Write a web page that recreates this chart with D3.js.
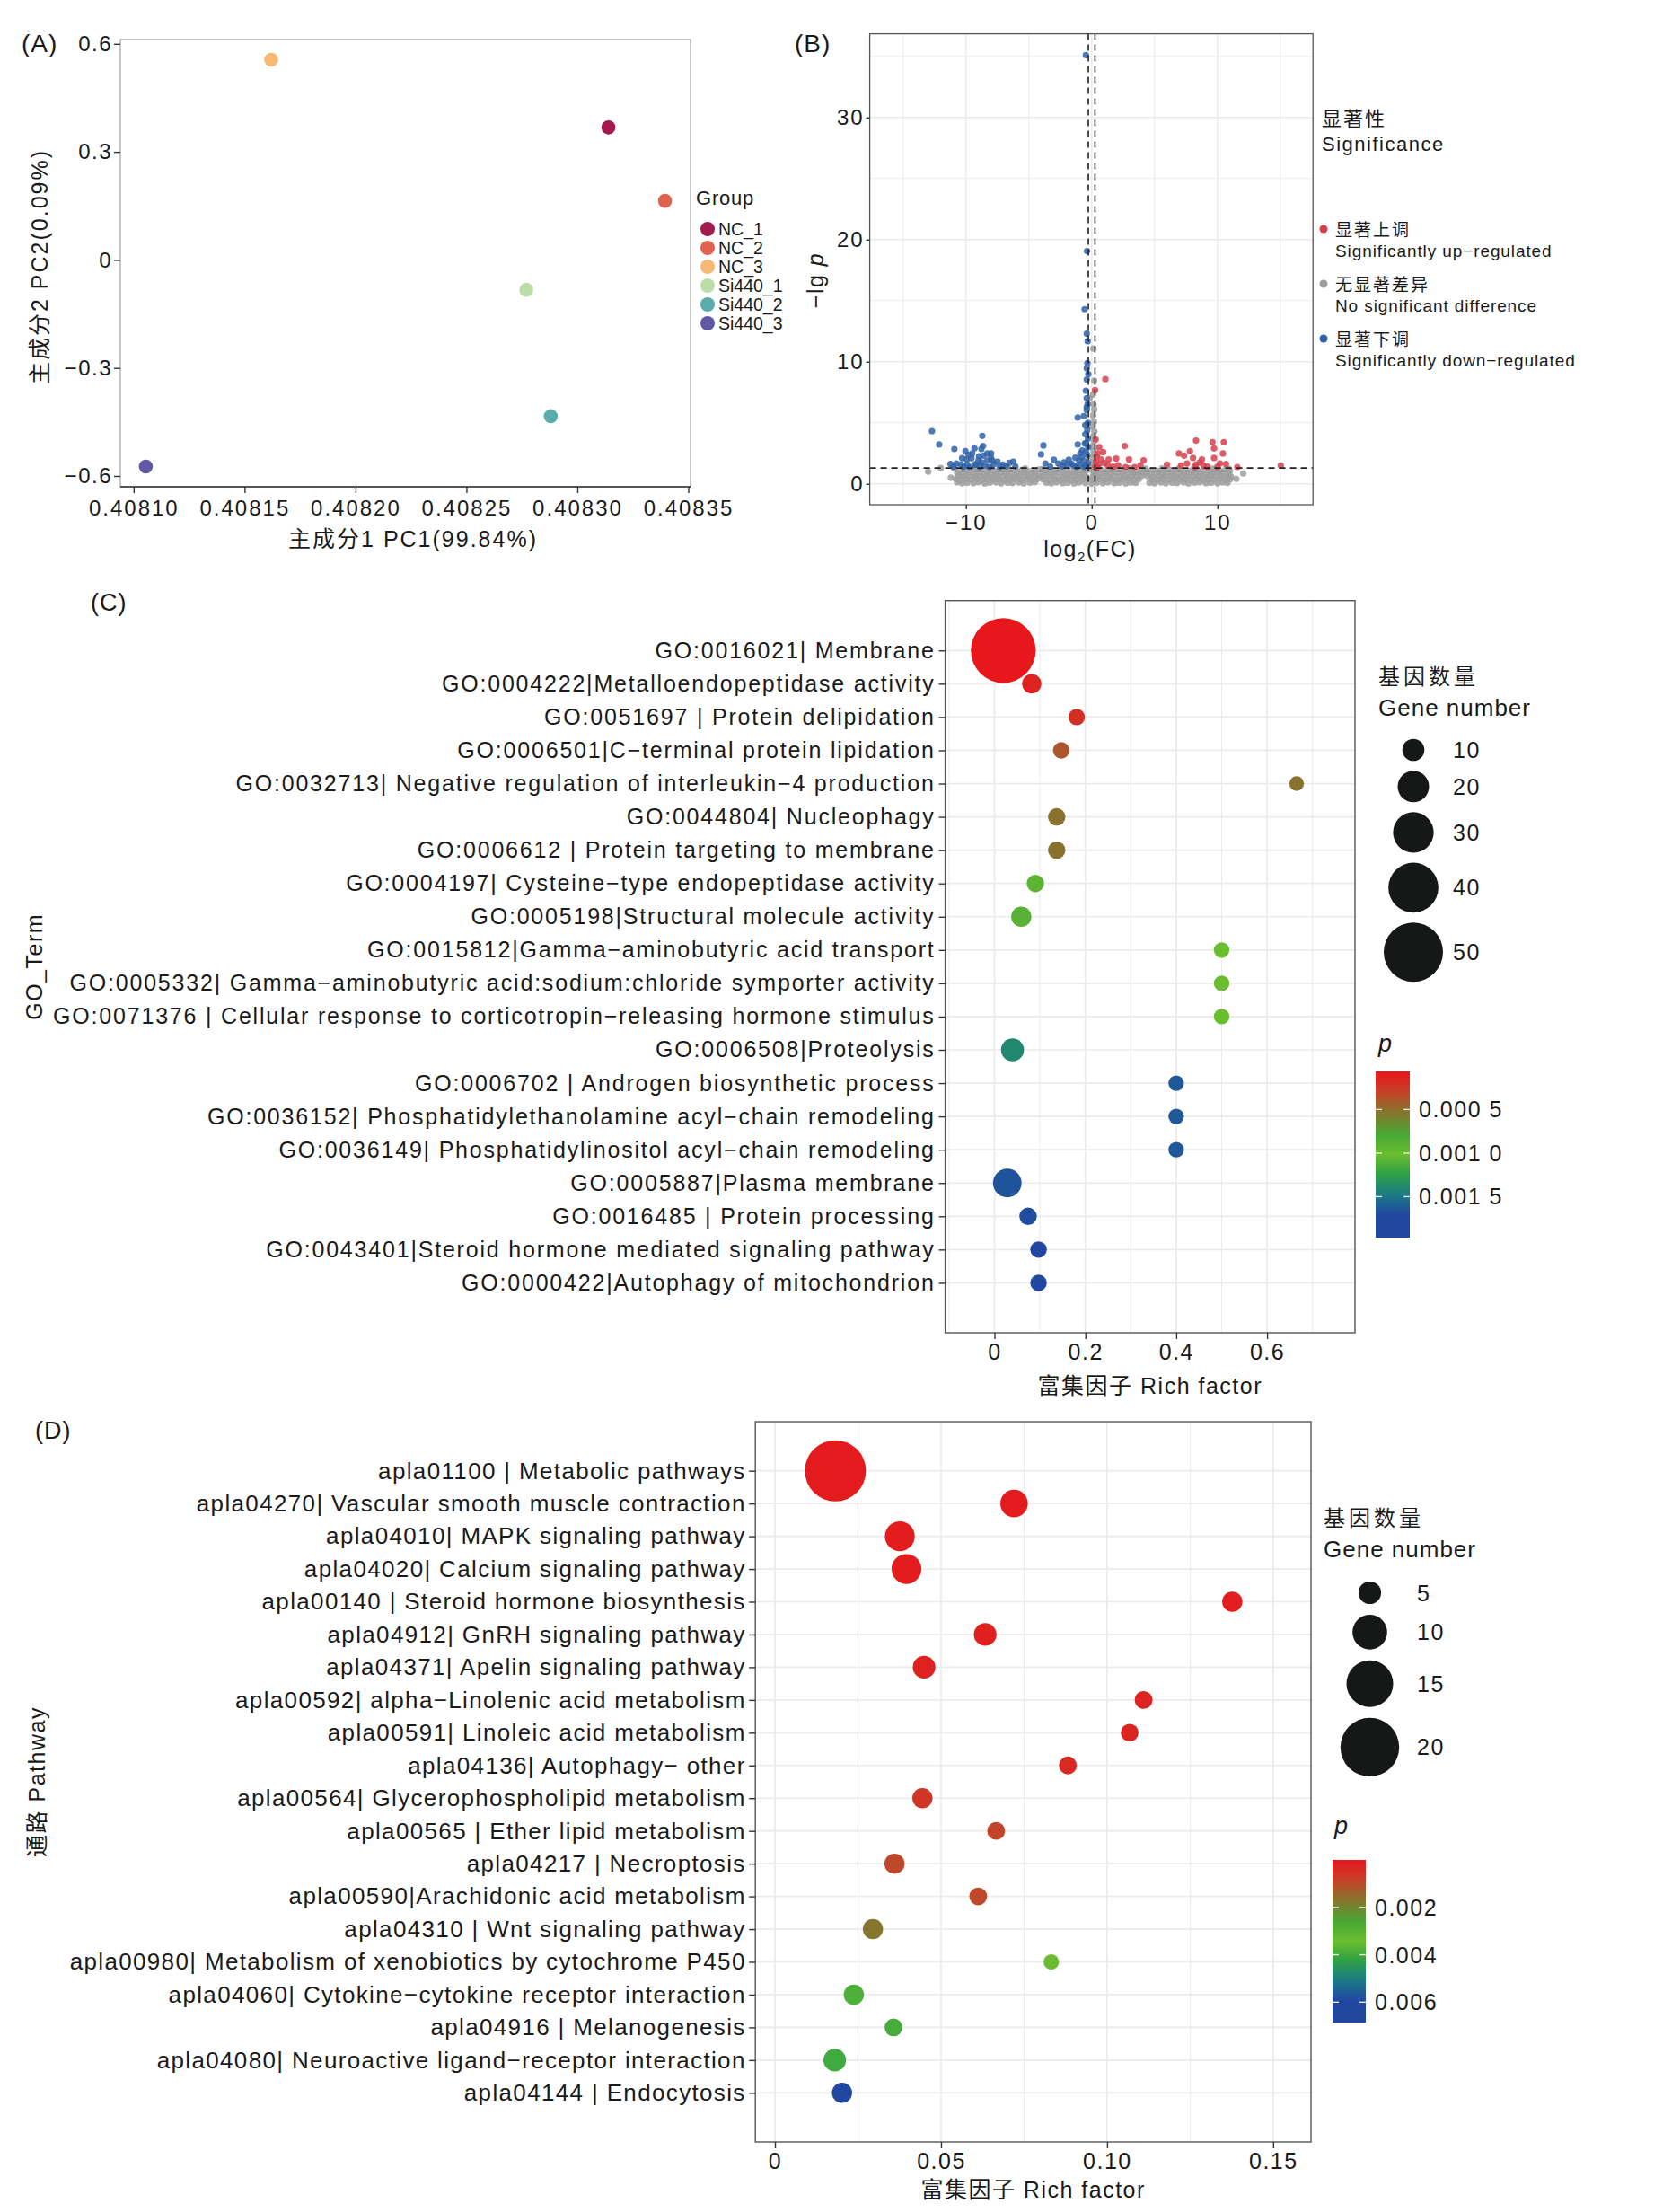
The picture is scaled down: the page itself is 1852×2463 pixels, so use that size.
<!DOCTYPE html>
<html>
<head>
<meta charset="utf-8">
<script src="https://cdn.jsdelivr.net/npm/d3@7"></script>
<style>
  body { margin: 0; background: #fff; }
  svg text { font-family: "Liberation Sans", Arial, "Noto Sans CJK SC", sans-serif; fill: #1a1a1a; }
</style>
</head>
<body>
<svg id="fig" width="1852" height="2463"></svg>
<script>

/* ---------------- DATA ---------------- */

// (A) PCA
const pcaGroups = ["NC_1", "NC_2", "NC_3", "Si440_1", "Si440_2", "Si440_3"];
const pcaPC1 = [0.408314, 0.4083395, 0.408162, 0.408277, 0.408288, 0.4081055];
const pcaPC2 = [0.368, 0.164, 0.556, -0.083, -0.434, -0.574];
const pcaColors = ["#A3184F", "#E0634F", "#F8B975", "#BDDDA7", "#5BACAC", "#6259A6"];
const pcaXTicks = [0.40810, 0.40815, 0.40820, 0.40825, 0.40830, 0.40835];
const pcaYTicks = [-0.6, -0.3, 0, 0.3, 0.6];

// (B) volcano, [log2FC, -lg p]
const volDown = [
  [-0.46, 35.1], [-0.37, 19.06], [-0.56, 14.3], [-0.39, 12.29], [-0.32, 11.68], [-0.34, 9.89],
  [-0.39, 9.47], [-0.27, 8.98], [-0.39, 8.54], [-0.46, 7.63], [-0.39, 7.02], [-0.32, 6.53],
  [-0.39, 6.05], [-1.11, 5.43], [-0.63, 5.55], [-0.51, 4.8], [-0.51, 4.06], [-0.39, 6.28],
  [-0.44, 3.34], [-0.34, 2.36], [-0.75, 2.73], [-0.63, 1.88], [-1.46, 1.5], [-0.99, 1.58],
  [-0.51, 1.5], [-1.11, 3.22], [-1.3, 2.14], [-1.82, 1.97], [-1.94, 1.58], [-2.65, 1.67],
  [-3.01, 1.97], [-3.68, 1.67], [-4.03, 2.41], [-3.84, 3.15], [-0.3, 5.0], [-0.35, 4.4],
  [-0.3, 3.7], [-0.28, 3.0], [-0.45, 2.6], [-0.8, 2.2], [-1.0, 1.9], [-0.3, 1.7], [-0.6, 1.4],
  [-2.3, 1.45], [-3.3, 1.4], [-2.2, 1.75], [-1.6, 1.65], [-1.2, 1.4], [-0.9, 2.5], [-0.55, 3.3],
  [-12.7, 4.32], [-12.13, 3.22], [-10.92, 2.85], [-8.7, 3.93], [-8.64, 3.1], [-10.04, 2.68],
  [-9.32, 2.9], [-8.77, 2.85], [-8.3, 2.49], [-9.8, 2.37], [-9.56, 2.09], [-8.96, 2.25],
  [-8.01, 2.12], [-7.49, 1.82], [-7.77, 1.62], [-11.23, 1.62], [-10.76, 1.67], [-10.4, 1.58],
  [-9.2, 1.62], [-8.5, 1.5], [-7.06, 1.58], [-6.54, 1.72], [-6.23, 1.82], [-6.07, 1.43],
  [-9.92, 2.0], [-8.74, 1.75], [-8.15, 1.38], [-9.68, 1.38], [-10.2, 1.4], [-9.0, 1.9],
  [-8.3, 1.9], [-7.3, 1.4], [-9.5, 2.5], [-10.3, 2.1], [-11.0, 1.4], [-8.9, 1.4], [-7.9, 1.9],
  [-6.8, 1.45], [-9.3, 1.55], [-8.0, 2.5], [-9.9, 1.55], [-8.6, 2.3]
];
const volUp = [
  [1.09, 8.57], [0.27, 7.67], [0.32, 3.64], [2.63, 3.1], [0.92, 2.6], [0.39, 2.24], [0.75, 2.0],
  [1.35, 2.0], [1.95, 2.07], [2.97, 2.0], [4.13, 1.93], [3.89, 1.51], [3.42, 1.38], [2.7, 1.38],
  [2.11, 1.51], [1.28, 1.51], [0.56, 1.58], [5.99, 1.58], [8.3, 3.54], [9.61, 3.41], [10.51, 3.41],
  [9.73, 2.9], [10.44, 2.49], [9.73, 2.12], [7.82, 2.68], [6.94, 2.49], [7.35, 2.31], [8.06, 2.12],
  [8.77, 2.0], [7.58, 1.67], [8.3, 1.58], [8.89, 1.5], [10.2, 1.67], [10.68, 1.62], [11.58, 1.38],
  [15.04, 1.5], [8.18, 1.38], [0.35, 1.8], [0.5, 2.5], [0.3, 1.4], [0.6, 3.0], [1.0, 1.7],
  [1.7, 1.4], [8.6, 1.75], [9.2, 1.4], [7.1, 1.5], [10.0, 1.4], [0.45, 1.35]
];
const volNone = [
  [-10.7, 0.12], [-10.3, 0.05], [-9.9, 0.1], [-9.4, 0.06], [-9.0, 0.13], [-8.5, 0.04], [-8.1, 0.09],
  [-7.6, 0.12], [-7.2, 0.05], [-6.7, 0.1], [-6.3, 0.07], [-5.8, 0.12], [-5.4, 0.04], [-4.9, 0.09],
  [-4.5, 0.15], [-3.6, 0.1], [-3.2, 0.05], [-2.8, 0.12], [-2.3, 0.06], [-1.9, 0.1], [-1.4, 0.04],
  [-1.0, 0.11], [-0.5, 0.07], [0.0, 0.02], [0.4, 0.09], [0.9, 0.05], [1.3, 0.12], [1.8, 0.06],
  [2.2, 0.1], [2.7, 0.04], [3.1, 0.11], [3.5, 0.08], [4.6, 0.1], [5.0, 0.06], [5.5, 0.12],
  [5.9, 0.05], [6.4, 0.1], [6.8, 0.07], [7.3, 0.12], [7.7, 0.04], [8.2, 0.09], [8.6, 0.13],
  [9.1, 0.06], [9.5, 0.1], [10.0, 0.05], [10.4, 0.12], [10.8, 0.08],
  [-10.8, 0.38], [-10.45, 0.32], [-10.0, 0.4], [-9.6, 0.33], [-9.15, 0.37], [-8.7, 0.3], [-8.3, 0.41],
  [-7.85, 0.34], [-7.4, 0.39], [-6.95, 0.31], [-6.5, 0.36], [-6.1, 0.42], [-5.65, 0.33], [-5.2, 0.38],
  [-4.75, 0.3], [-4.3, 0.4], [-3.85, 0.35], [-3.4, 0.31], [-2.95, 0.38], [-2.5, 0.33], [-2.05, 0.4],
  [-1.6, 0.3], [-1.2, 0.37], [-0.75, 0.34], [-0.3, 0.41], [0.15, 0.3], [0.6, 0.38], [1.05, 0.33],
  [1.5, 0.4], [1.95, 0.31], [2.4, 0.36], [2.85, 0.42], [3.3, 0.32], [3.75, 0.38], [4.8, 0.35],
  [5.25, 0.3], [5.7, 0.39], [6.15, 0.34], [6.6, 0.41], [7.05, 0.31], [7.5, 0.37], [7.95, 0.33],
  [8.4, 0.4], [8.85, 0.3], [9.3, 0.38], [9.75, 0.34], [10.2, 0.41], [10.65, 0.32], [11.0, 0.37],
  [-10.6, 0.62], [-10.2, 0.58], [-9.75, 0.65], [-9.3, 0.57], [-8.9, 0.63], [-8.45, 0.6], [-8.0, 0.55],
  [-7.55, 0.66], [-7.1, 0.59], [-6.7, 0.62], [-6.25, 0.56], [-5.8, 0.64], [-5.35, 0.6], [-4.9, 0.57],
  [-4.45, 0.63], [-4.0, 0.58], [-3.55, 0.66], [-3.1, 0.6], [-2.65, 0.55], [-2.2, 0.62], [-1.75, 0.58],
  [-1.3, 0.65], [-0.85, 0.6], [-0.45, 0.56], [0.1, 0.63], [0.5, 0.58], [0.95, 0.65], [1.4, 0.57],
  [1.85, 0.62], [2.3, 0.6], [2.75, 0.56], [3.2, 0.64], [3.6, 0.6], [4.0, 0.66], [4.45, 0.62],
  [4.9, 0.57], [5.35, 0.63], [5.8, 0.59], [6.25, 0.65], [6.7, 0.56], [7.15, 0.61], [7.6, 0.58],
  [8.05, 0.64], [8.5, 0.6], [8.95, 0.55], [9.4, 0.63], [9.85, 0.59], [10.3, 0.65], [10.75, 0.6], [11.1, 0.56],
  [-10.7, 0.86], [-10.3, 0.82], [-9.85, 0.9], [-9.4, 0.84], [-8.95, 0.88], [-8.55, 0.8], [-8.1, 0.87],
  [-7.65, 0.83], [-7.2, 0.9], [-6.8, 0.81], [-6.35, 0.86], [-5.9, 0.84], [-5.45, 0.9], [-5.0, 0.82],
  [-4.55, 0.87], [-4.1, 0.8], [-3.65, 0.88], [-3.2, 0.83], [-2.75, 0.9], [-2.3, 0.85], [-1.85, 0.8],
  [-1.4, 0.88], [-0.95, 0.83], [-0.55, 0.9], [0.2, 0.85], [0.65, 0.81], [1.1, 0.88], [1.55, 0.84],
  [2.0, 0.9], [2.45, 0.82], [2.9, 0.87], [3.35, 0.83], [3.8, 0.89], [4.2, 0.84], [4.65, 0.8],
  [5.1, 0.88], [5.55, 0.83], [6.0, 0.9], [6.45, 0.85], [6.9, 0.81], [7.35, 0.88], [7.8, 0.84],
  [8.25, 0.9], [8.7, 0.82], [9.15, 0.87], [9.6, 0.83], [10.05, 0.89], [10.5, 0.85], [10.95, 0.81],
  [-10.5, 1.1], [-10.05, 1.05], [-9.6, 1.14], [-9.15, 1.08], [-8.7, 1.12], [-8.25, 1.04], [-7.8, 1.1],
  [-7.35, 1.15], [-6.9, 1.06], [-6.45, 1.12], [-6.0, 1.08], [-5.55, 1.14], [-5.1, 1.05], [-4.65, 1.1],
  [-4.2, 1.16], [-3.75, 1.07], [-3.3, 1.12], [-2.85, 1.05], [-2.4, 1.14], [-1.95, 1.09], [-1.5, 1.04],
  [-1.05, 1.12], [-0.6, 1.08], [-0.15, 1.15], [0.3, 1.06], [0.75, 1.12], [1.2, 1.05], [1.65, 1.1],
  [2.1, 1.15], [2.55, 1.07], [3.0, 1.12], [3.45, 1.04], [3.9, 1.1], [4.35, 1.08], [4.8, 1.13],
  [5.25, 1.06], [5.7, 1.11], [6.15, 1.15], [6.6, 1.07], [7.05, 1.12], [7.5, 1.05], [7.95, 1.1],
  [8.4, 1.14], [8.85, 1.07], [9.3, 1.12], [9.75, 1.05], [10.2, 1.1], [10.65, 1.15], [11.0, 1.06],
  [-10.9, 1.25], [-9.3, 1.24], [-8.0, 1.27], [-6.6, 1.24], [-5.3, 1.26], [-3.9, 1.22], [-2.5, 1.27],
  [-1.2, 1.24], [-0.2, 1.28], [0.2, 1.25], [1.6, 1.23], [3.0, 1.27], [4.3, 1.24], [5.6, 1.26],
  [6.9, 1.23], [8.3, 1.27], [9.6, 1.24], [10.9, 1.25],
  [-13.0, 1.0], [-12.0, 1.3], [12.05, 0.85], [11.5, 0.4], [-11.2, 0.5],
  [0.13, 11.07], [0.2, 8.44], [-0.16, 7.02], [0.2, 6.09], [0.1, 5.6], [0.18, 5.1], [0.05, 4.7],
  [0.22, 4.3], [0.12, 3.9], [0.2, 3.5], [0.08, 3.1], [0.15, 2.7], [0.22, 2.4], [0.05, 2.1],
  [0.18, 1.8], [0.1, 1.5], [0.25, 1.4], [-0.1, 1.6], [0.15, 6.5], [0.1, 7.3]
];
const volXTicks = [-10, 0, 10];
const volYTicks = [0, 10, 20, 30];
const volXMinor = [-15, -5, 5, 15];
const volYMinor = [5, 15, 25, 35];
const fcCut = 0.263;        // log2(1.2)
const pCut = 1.301;         // -lg 0.05
const volLegendCn = ["显著上调", "无显著差异", "显著下调"];
const volLegendEn = ["Significantly up−regulated", "No significant difference", "Significantly down−regulated"];
const volColors = ["#D6404E", "#9E9E9E", "#2F62A8"];

// (C) GO enrichment
const goTerms = [
  "GO:0016021| Membrane",
  "GO:0004222|Metalloendopeptidase activity",
  "GO:0051697 | Protein delipidation",
  "GO:0006501|C−terminal protein lipidation",
  "GO:0032713| Negative regulation of interleukin−4 production",
  "GO:0044804| Nucleophagy",
  "GO:0006612 | Protein targeting to membrane",
  "GO:0004197| Cysteine−type endopeptidase activity",
  "GO:0005198|Structural molecule activity",
  "GO:0015812|Gamma−aminobutyric acid transport",
  "GO:0005332| Gamma−aminobutyric acid:sodium:chloride symporter activity",
  "GO:0071376 | Cellular response to corticotropin−releasing hormone stimulus",
  "GO:0006508|Proteolysis",
  "GO:0006702 | Androgen biosynthetic process",
  "GO:0036152| Phosphatidylethanolamine acyl−chain remodeling",
  "GO:0036149| Phosphatidylinositol acyl−chain remodeling",
  "GO:0005887|Plasma membrane",
  "GO:0016485 | Protein processing",
  "GO:0043401|Steroid hormone mediated signaling pathway",
  "GO:0000422|Autophagy of mitochondrion"
];
const goRich = [0.0194, 0.082, 0.181, 0.147, 0.665, 0.137, 0.137, 0.090, 0.059, 0.5,
                0.5, 0.5, 0.0397, 0.4, 0.4, 0.4, 0.0282, 0.074, 0.097, 0.097];
const goCount = [56, 7, 4, 4, 2, 5, 5, 5, 8, 3, 3, 3, 11, 3, 3, 3, 17, 5, 4, 4];
const goP = [0.00007, 0.00014, 0.0002, 0.00039, 0.00052, 0.00052, 0.00052, 0.00092, 0.0009, 0.00102,
             0.00102, 0.00102, 0.0014, 0.00163, 0.00163, 0.00163, 0.00165, 0.00168, 0.00178, 0.00178];
const goXTicks = [0, 0.2, 0.4, 0.6];
const goXMinor = [-0.1, 0.1, 0.3, 0.5, 0.7];
const goSizeBreaks = [10, 20, 30, 40, 50];
const goPBreaks = [0.0005, 0.0010, 0.0015];
const goPLabels = ["0.000 5", "0.001 0", "0.001 5"];

// (D) KEGG enrichment
const keggTerms = [
  "apla01100 | Metabolic pathways",
  "apla04270| Vascular smooth muscle contraction",
  "apla04010| MAPK signaling pathway",
  "apla04020| Calcium signaling pathway",
  "apla00140 | Steroid hormone biosynthesis",
  "apla04912| GnRH signaling pathway",
  "apla04371| Apelin signaling pathway",
  "apla00592| alpha−Linolenic acid metabolism",
  "apla00591| Linoleic acid metabolism",
  "apla04136| Autophagy− other",
  "apla00564| Glycerophospholipid metabolism",
  "apla00565 | Ether lipid metabolism",
  "apla04217 | Necroptosis",
  "apla00590|Arachidonic acid metabolism",
  "apla04310 | Wnt signaling pathway",
  "apla00980| Metabolism of xenobiotics by cytochrome P450",
  "apla04060| Cytokine−cytokine receptor interaction",
  "apla04916 | Melanogenesis",
  "apla04080| Neuroactive ligand−receptor interaction",
  "apla04144 | Endocytosis"
];
const keggRich = [0.0182, 0.0720, 0.0376, 0.0396, 0.1377, 0.0633, 0.0449, 0.111, 0.1068, 0.0882,
                  0.0444, 0.0666, 0.036, 0.0612, 0.0295, 0.0832, 0.02375, 0.0357, 0.018, 0.0202];
const keggCount = [21, 7, 8, 8, 4, 5, 5, 3, 3, 3, 4, 3, 4, 3, 4, 2, 4, 3, 5, 4];
const keggP = [0.0001, 0.0001, 0.00012, 0.00012, 0.00015, 0.0002, 0.00022, 0.00025, 0.0003, 0.0004,
               0.0006, 0.0009, 0.00096, 0.00096, 0.0017, 0.0034, 0.0038, 0.0039, 0.004, 0.0062];
const keggXTicks = [0, 0.05, 0.10, 0.15];
const keggXLabels = ["0", "0.05", "0.10", "0.15"];
const keggXMinor = [0.025, 0.075, 0.125];
const keggSizeBreaks = [5, 10, 15, 20];
const keggPBreaks = [0.002, 0.004, 0.006];
const keggPLabels = ["0.002", "0.004", "0.006"];

// p colour ramp (fraction from low p to high p)
const pStopFrac = [0, 0.12, 0.23, 0.38, 0.5, 0.62, 0.75, 0.86, 1];
const pStopColor = ["#E8161B", "#C8402A", "#8E6E2C", "#48A836", "#6ABD2F", "#2EA046", "#1C7888", "#2148A0", "#2146A0"];

/* ---------------- HELPERS ---------------- */

const svg = d3.select("#fig");
svg.append("rect").attr("width", 1852).attr("height", 2463).attr("fill", "#fff");

const minus = v => (v < 0 ? "−" + Math.abs(v) : String(v));

function addText(x, y, str, size, opts = {}) {
  const t = svg.append("text")
    .attr("x", x).attr("y", y)
    .attr("font-size", size)
    .attr("text-anchor", opts.anchor || "start")
    .attr("letter-spacing", opts.ls || 0)
    .text(str);
  if (opts.rotate) t.attr("transform", `rotate(-90, ${x}, ${y})`);
  if (opts.italic) t.attr("font-style", "italic");
  return t;
}

function styleAxis(g, fontSize, ls) {
  g.select(".domain").remove();
  g.selectAll(".tick line").attr("stroke", "#333").attr("stroke-width", 1.4);
  g.selectAll(".tick text")
    .attr("font-size", fontSize)
    .attr("letter-spacing", ls)
    .attr("fill", "#1a1a1a")
    .style("font-family", '"Liberation Sans", Arial, sans-serif');
}

function gridLines(xs, ys, xScale, yScale, xVals, yVals, w) {
  const g = svg.append("g");
  g.selectAll("line.v").data(xVals).join("line")
    .attr("x1", d => xScale(d)).attr("x2", d => xScale(d))
    .attr("y1", ys[0]).attr("y2", ys[1])
    .attr("stroke", "#EBEBEB").attr("stroke-width", w);
  g.selectAll("line.h").data(yVals).join("line")
    .attr("x1", xs[0]).attr("x2", xs[1])
    .attr("y1", d => yScale(d)).attr("y2", d => yScale(d))
    .attr("stroke", "#EBEBEB").attr("stroke-width", w);
}

/* ---------------- (A) PCA ---------------- */

const A = { l: 134, r: 769, t: 44, b: 542 };
const xA = d3.scaleLinear().domain([0.408094, 0.408351]).range([A.l, A.r]);
const yA = d3.scaleLinear().domain([-0.630, 0.612]).range([A.b, A.t]);

svg.append("rect").attr("x", A.l).attr("y", A.t).attr("width", A.r - A.l).attr("height", A.b - A.t)
  .attr("fill", "none").attr("stroke", "#a0a0a0").attr("stroke-width", 1.2);
svg.append("line").attr("x1", A.l).attr("x2", A.r).attr("y1", A.b).attr("y2", A.b)
  .attr("stroke", "#555").attr("stroke-width", 2.2);

styleAxis(svg.append("g").attr("transform", `translate(0,${A.b})`)
  .call(d3.axisBottom(xA).tickValues(pcaXTicks).tickFormat(d3.format(".5f")).tickSize(7).tickPadding(8)), 24, 2);
styleAxis(svg.append("g").attr("transform", `translate(${A.l},0)`)
  .call(d3.axisLeft(yA).tickValues(pcaYTicks).tickFormat(minus).tickSize(7).tickPadding(2)), 24, 1.5);

svg.append("g").selectAll("circle").data(pcaGroups).join("circle")
  .attr("cx", (d, i) => xA(pcaPC1[i]))
  .attr("cy", (d, i) => yA(pcaPC2[i]))
  .attr("r", 7.8)
  .attr("fill", (d, i) => pcaColors[i]);

addText(24, 58, "(A)", 28, { ls: 1 });
addText(460, 609, "主成分1 PC1(99.84%)", 25, { anchor: "middle", ls: 2 });
addText(53, 297, "主成分2 PC2(0.09%)", 25, { anchor: "middle", ls: 2, rotate: true });

addText(775, 228, "Group", 22, { ls: 0.8 });
const legA = svg.append("g");
legA.selectAll("circle").data(pcaGroups).join("circle")
  .attr("cx", 788).attr("cy", (d, i) => 255 + i * 21).attr("r", 8).attr("fill", (d, i) => pcaColors[i]);
legA.selectAll("text").data(pcaGroups).join("text")
  .attr("x", 800).attr("y", (d, i) => 255 + i * 21 + 7).attr("font-size", 19.5)
  .text(d => d);

/* ---------------- (B) Volcano ---------------- */

const B = { l: 968.6, r: 1462.2, t: 37.6, b: 562 };
const xB = d3.scaleLinear().domain([-17.65, 17.6]).range([B.l, B.r]);
const yB = d3.scaleLinear().domain([-1.71, 36.85]).range([B.b, B.t]);

gridLines([B.l, B.r], [B.t, B.b], xB, yB, volXMinor, volYMinor, 1);
gridLines([B.l, B.r], [B.t, B.b], xB, yB, volXTicks, volYTicks, 1.6);

const volLayers = [[volNone, volColors[1]], [volDown, volColors[2]], [volUp, volColors[0]]];
volLayers.forEach(([data, col]) => {
  svg.append("g").selectAll("circle").data(data).join("circle")
    .attr("cx", d => xB(d[0])).attr("cy", d => yB(d[1]))
    .attr("r", 3.6).attr("fill", col).attr("fill-opacity", 0.85);
});

// threshold lines
[-fcCut, fcCut].forEach(v => {
  svg.append("line").attr("x1", xB(v)).attr("x2", xB(v)).attr("y1", B.t).attr("y2", B.b)
    .attr("stroke", "#222").attr("stroke-width", 1.6).attr("stroke-dasharray", "7,5");
});
svg.append("line").attr("x1", B.l).attr("x2", B.r).attr("y1", yB(pCut)).attr("y2", yB(pCut))
  .attr("stroke", "#222").attr("stroke-width", 1.8).attr("stroke-dasharray", "7,5");

svg.append("rect").attr("x", B.l).attr("y", B.t).attr("width", B.r - B.l).attr("height", B.b - B.t)
  .attr("fill", "none").attr("stroke", "#555").attr("stroke-width", 1.3);

styleAxis(svg.append("g").attr("transform", `translate(0,${B.b})`)
  .call(d3.axisBottom(xB).tickValues(volXTicks).tickFormat(minus).tickSize(5).tickPadding(6)), 24, 2);
styleAxis(svg.append("g").attr("transform", `translate(${B.l},0)`)
  .call(d3.axisLeft(yB).tickValues(volYTicks).tickFormat(minus).tickSize(4).tickPadding(2)), 24, 2);

addText(885, 58, "(B)", 28, { ls: 1 });
const bx = addText(1214, 620, "", 25, { anchor: "middle", ls: 1.5 });
bx.append("tspan").text("log");
bx.append("tspan").attr("font-size", 15).attr("dy", 5).text("2");
bx.append("tspan").attr("dy", -5).text("(FC)");
const by = addText(917, 312, "", 25, { anchor: "middle", ls: 1.5, rotate: true });
by.append("tspan").text("−lg ");
by.append("tspan").attr("font-style", "italic").text("p");

addText(1472, 140, "显著性", 22, { ls: 2 });
addText(1472, 168, "Significance", 22, { ls: 1.5 });
const legB = svg.append("g");
legB.selectAll("circle").data(volLegendCn).join("circle")
  .attr("cx", 1474).attr("cy", (d, i) => 255 + i * 61).attr("r", 4.5).attr("fill", (d, i) => volColors[i]);
legB.selectAll("text.cn").data(volLegendCn).join("text").attr("class", "cn")
  .attr("x", 1487).attr("y", (d, i) => 255 + i * 61 + 8).attr("font-size", 19).attr("letter-spacing", 2)
  .text(d => d);
legB.selectAll("text.en").data(volLegendEn).join("text").attr("class", "en")
  .attr("x", 1487).attr("y", (d, i) => 255 + i * 61 + 30.5).attr("font-size", 19).attr("letter-spacing", 0.9)
  .text(d => d);

/* ---------------- bubble panels (C, D) ---------------- */

function bubblePanel(cfg) {
  const { box, terms, rich, count, pv } = cfg;
  const x = d3.scaleLinear().domain(cfg.xDomain).range([box.l, box.r]);
  const y = d3.scalePoint().domain(terms).range([box.t, box.b]).padding(1.5);
  const r = d3.scaleLinear().domain(cfg.sizeDomain).range(cfg.sizeRange);
  const pFrac = d3.scaleLinear().domain(cfg.pDomain).range([0, 1]);
  const pCol = d3.scaleLinear().domain(pStopFrac).range(pStopColor).interpolate(d3.interpolateRgb);

  // grid
  gridLines([box.l, box.r], [box.t, box.b], x, y, cfg.xMinor, [], 1);
  gridLines([box.l, box.r], [box.t, box.b], x, y, cfg.xTicks, terms, 1.7);

  // bubbles
  svg.append("g").selectAll("circle").data(terms).join("circle")
    .attr("cx", (d, i) => x(rich[i]))
    .attr("cy", d => y(d))
    .attr("r", (d, i) => r(count[i]))
    .attr("fill", (d, i) => pCol(pFrac(pv[i])));

  svg.append("rect").attr("x", box.l).attr("y", box.t).attr("width", box.r - box.l).attr("height", box.b - box.t)
    .attr("fill", "none").attr("stroke", "#555").attr("stroke-width", 1.4);

  styleAxis(svg.append("g").attr("transform", `translate(0,${box.b})`)
    .call(d3.axisBottom(x).tickValues(cfg.xTicks).tickFormat((d, i) => cfg.xLabels[i]).tickSize(7).tickPadding(5)), 25, 1.5);
  styleAxis(svg.append("g").attr("transform", `translate(${box.l},0)`)
    .call(d3.axisLeft(y).tickSize(7).tickPadding(cfg.labelPad)), cfg.labelSize, cfg.labelLs);

  // titles
  addText(cfg.tag[0], cfg.tag[1], cfg.tag[2], 27, { ls: 1 });
  addText((box.l + box.r) / 2, cfg.xTitleY, "富集因子 Rich factor", 25, { anchor: "middle", ls: 1.5 });
  addText(cfg.yTitleX, (box.t + box.b) / 2, cfg.yTitle, 25, { anchor: "middle", ls: 1.5, rotate: true });

  // size legend (keys stacked from the first centre downward)
  const L = cfg.leg;
  addText(L.x, L.titleY, "基因数量", 24, { ls: 4 });
  addText(L.x, L.titleY + 35, "Gene number", 26, { ls: 1 });
  const centers = [];
  cfg.sizeBreaks.forEach((b, i) => {
    centers.push(i === 0 ? L.firstY : centers[i - 1] + r(cfg.sizeBreaks[i - 1]) + L.gap + r(b));
  });
  const sg = svg.append("g");
  sg.selectAll("circle").data(cfg.sizeBreaks).join("circle")
    .attr("cx", L.cx).attr("cy", (d, i) => centers[i]).attr("r", d => r(d)).attr("fill", "#161818");
  sg.selectAll("text").data(cfg.sizeBreaks).join("text")
    .attr("x", L.labelX).attr("y", (d, i) => centers[i] + 9).attr("font-size", 25).attr("letter-spacing", 1.5)
    .text(d => d);

  // colour bar
  addText(L.pX, L.pY, "p", 27, { italic: true });
  const gid = "grad" + cfg.tag[2].replace(/\W/g, "");
  const grad = svg.append("defs").append("linearGradient").attr("id", gid)
    .attr("x1", 0).attr("x2", 0).attr("y1", 0).attr("y2", 1);
  pStopFrac.forEach((f, i) => grad.append("stop").attr("offset", f).attr("stop-color", pStopColor[i]));
  const bar = L.bar;
  svg.append("rect").attr("x", bar.x).attr("y", bar.y).attr("width", bar.w).attr("height", bar.h)
    .attr("fill", `url(#${gid})`);
  const yBar = d3.scaleLinear().domain(cfg.pDomain).range([bar.y, bar.y + bar.h]);
  const cb = svg.append("g");
  cfg.pBreaks.forEach((b, i) => {
    [bar.x, bar.x + bar.w - 7].forEach(x0 => {
      cb.append("line").attr("x1", x0).attr("x2", x0 + 7).attr("y1", yBar(b)).attr("y2", yBar(b))
        .attr("stroke", "#e8e8d8").attr("stroke-width", 1.4);
    });
    cb.append("text").attr("x", bar.x + bar.w + 10).attr("y", yBar(b) + 9)
      .attr("font-size", 25).attr("letter-spacing", 1.5).text(cfg.pLabels[i]);
  });
}

bubblePanel({
  box: { l: 1052.6, r: 1509, t: 668.7, b: 1484 },
  terms: goTerms, rich: goRich, count: goCount, pv: goP,
  xDomain: [-0.1085, 0.7935], xTicks: goXTicks, xLabels: ["0", "0.2", "0.4", "0.6"], xMinor: goXMinor,
  sizeDomain: [10, 50], sizeRange: [12.3, 33], sizeBreaks: goSizeBreaks,
  pDomain: [0.000063, 0.00197], pBreaks: goPBreaks, pLabels: goPLabels,
  labelSize: 25, labelLs: 1.8, labelPad: 4,
  tag: [101, 680, "(C)"], xTitleY: 1552, yTitle: "GO_Term", yTitleX: 47,
  leg: { x: 1535, titleY: 762, firstY: 835, gap: 11, cx: 1574, labelX: 1618,
         pX: 1535, pY: 1171, bar: { x: 1532, y: 1193, w: 38, h: 185 } }
});

bubblePanel({
  box: { l: 841.2, r: 1460, t: 1583, b: 2385 },
  terms: keggTerms, rich: keggRich, count: keggCount, pv: keggP,
  xDomain: [-0.0059, 0.1614], xTicks: keggXTicks, xLabels: keggXLabels, xMinor: keggXMinor,
  sizeDomain: [5, 20], sizeRange: [12.6, 32.7], sizeBreaks: keggSizeBreaks,
  pDomain: [0, 0.00686], pBreaks: keggPBreaks, pLabels: keggPLabels,
  labelSize: 26, labelLs: 1.35, labelPad: 3.5,
  tag: [39, 1602, "(D)"], xTitleY: 2447, yTitle: "通路 Pathway", yTitleX: 50,
  leg: { x: 1474, titleY: 1699, firstY: 1773.5, gap: 12, cx: 1525.5, labelX: 1578,
         pX: 1486, pY: 2042, bar: { x: 1484, y: 2071, w: 37, h: 181 } }
});

</script>
</body>
</html>
